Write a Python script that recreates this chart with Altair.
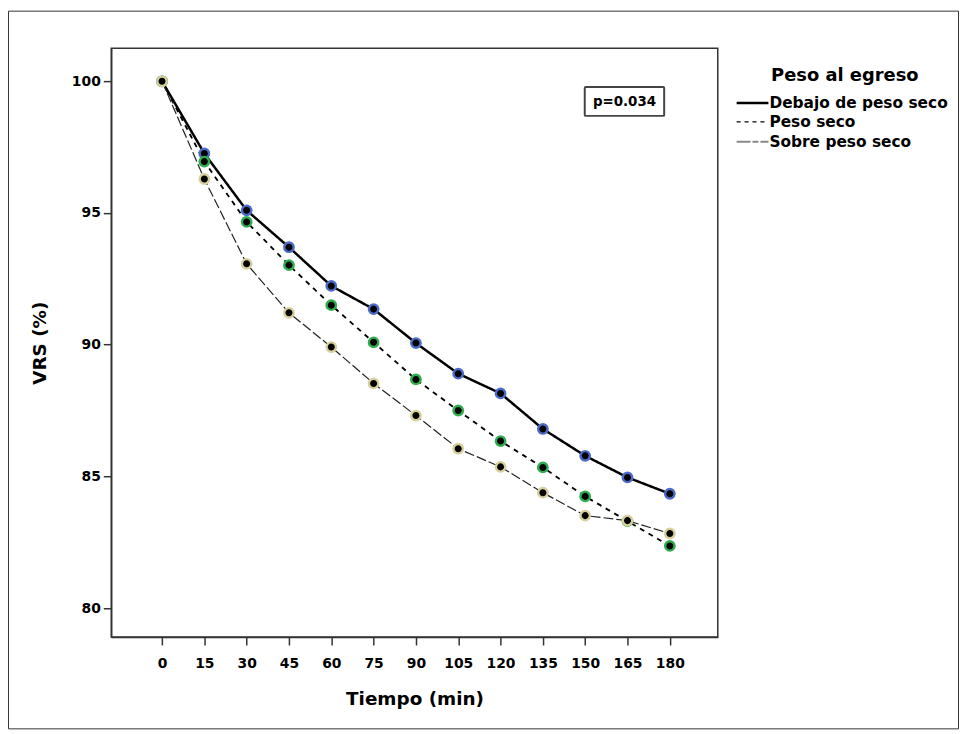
import altair as alt
import pandas as pd

# ---- data ----
tiempo = [0, 15, 30, 45, 60, 75, 90, 105, 120, 135, 150, 165, 180]
debajo = [100, 97.26, 95.10, 93.70, 92.23, 91.35, 90.06, 88.90, 88.15, 86.80, 85.78, 84.96, 84.34]
peso_seco = [100, 96.95, 94.66, 93.02, 91.50, 90.09, 88.68, 87.50, 86.34, 85.34, 84.24, 83.30, 82.36]
sobre = [100, 96.29, 93.07, 91.21, 89.91, 88.53, 87.31, 86.05, 85.36, 84.38, 83.51, 83.32, 82.83]
series = ["Debajo de peso seco", "Peso seco", "Sobre peso seco"]
y_ticks = [80, 85, 90, 95, 100]
p_text = "p=0.034"
legend_title = "Peso al egreso"

FONT = "DejaVu Sans"
W, H = 611, 593
PAD = {"left": 104, "top": 38, "right": 243, "bottom": 93}

rows = []
for name, vals in zip(series, [debajo, peso_seco, sobre]):
    for t, v in zip(tiempo, vals):
        rows.append({"t": t, "v": v, "serie": name})
df = pd.DataFrame(rows)

xs = alt.Scale(domain=[-18, 197], nice=False, zero=False)
ys = alt.Scale(domain=[78.9, 101.25], nice=False, zero=False)

dash_scale = alt.Scale(domain=series, range=[[1, 0], [5, 5], [10, 3]])
width_scale = alt.Scale(domain=series, range=[2.5, 1.2, 1.2])
line_color = alt.Scale(domain=series, range=["#000000", "#000000", "#222222"])
ring_color = alt.Scale(domain=series, range=["#4a6cc8", "#2fae4e", "#d8cf9c"])

x_enc = alt.X("t:Q", scale=xs, title="Tiempo (min)",
              axis=alt.Axis(values=tiempo, tickSize=8, labelPadding=12,
                            titleY=62, titleBaseline="middle", labelFlush=False))
y_enc = alt.Y("v:Q", scale=ys, title="VRS (%)",
              axis=alt.Axis(values=y_ticks, tickSize=8, labelPadding=3,
                            titleX=-72, titleY=H / 2, titleBaseline="middle",
                            titleAlign="center", labelFlush=False))

lines = alt.Chart(df).mark_line(clip=True).encode(
    x=x_enc,
    y=y_enc,
    color=alt.Color("serie:N", scale=line_color, legend=None),
    strokeDash=alt.StrokeDash("serie:N", scale=dash_scale, legend=None),
    strokeWidth=alt.StrokeWidth("serie:N", scale=width_scale, legend=None),
    detail="serie:N",
)

points = alt.Chart(df).mark_circle(size=90, opacity=1, fill="black", strokeWidth=2.4).encode(
    x="t:Q",
    y="v:Q",
    stroke=alt.Stroke("serie:N", scale=ring_color, legend=None),
)

# p-value annotation
pbox = alt.Chart(pd.DataFrame({"a": [0]})).mark_rect(
    fill="white", stroke="#444", strokeWidth=2, cornerRadius=1
).encode(x=alt.value(477), x2=alt.value(557), y=alt.value(39), y2=alt.value(68))
ptext = alt.Chart(pd.DataFrame({"a": [p_text]})).mark_text(
    font=FONT, fontWeight="bold", fontSize=13.5, align="center", baseline="middle", color="black"
).encode(text="a:N", x=alt.value(517), y=alt.value(54))

# manual legend
leg_layers = []
leg_layers.append(
    alt.Chart(pd.DataFrame({"a": [legend_title]})).mark_text(
        font=FONT, fontWeight="bold", fontSize=18, align="center", baseline="middle", color="black"
    ).encode(text="a:N", x=alt.value(739), y=alt.value(28))
)
row_y = [55, 74, 94]
sym_dash = [[1, 0], [4, 4], [14, 2, 6, 2]]
sym_width = [2.5, 1.2, 2]
sym_color = ["#000000", "#000000", "#888888"]
for i, name in enumerate(series):
    leg_layers.append(
        alt.Chart(pd.DataFrame({"a": [name]})).mark_rule(
            strokeDash=sym_dash[i], strokeWidth=sym_width[i], color=sym_color[i]
        ).encode(x=alt.value(630), x2=alt.value(662), y=alt.value(row_y[i]))
    )
    leg_layers.append(
        alt.Chart(pd.DataFrame({"a": [name]})).mark_text(
            font=FONT, fontWeight="bold", fontSize=15.5, align="left", baseline="middle", color="black"
        ).encode(text="a:N", x=alt.value(663), y=alt.value(row_y[i]))
    )

# outer frame around the whole figure
TW = PAD["left"] + W + PAD["right"]
TH = PAD["top"] + H + PAD["bottom"]
frame = alt.Chart(pd.DataFrame({"a": [0]})).mark_rect(
    fill=None, stroke="#333", strokeWidth=1
).encode(
    x=alt.value(-PAD["left"] + 0.5), x2=alt.value(TW - PAD["left"] - 0.5),
    y=alt.value(-PAD["top"] + 0.5), y2=alt.value(TH - PAD["top"] - 0.5),
)

chart = alt.layer(frame, lines, points, pbox, ptext, *leg_layers).properties(
    width=W, height=H, padding=PAD, autosize=alt.AutoSizeParams(type="none"),
    background="white",
).configure_view(
    stroke="#333", strokeWidth=1.5
).configure_axis(
    grid=False,
    domainColor="#333", domainWidth=1.5,
    tickColor="#333", tickWidth=1.5,
    labelFont=FONT, labelFontWeight="bold", labelFontSize=14, labelColor="black",
    titleFont=FONT, titleFontWeight="bold", titleFontSize=18.5, titleColor="black",
)

chart.save("out.html", embed_options={"renderer": "svg", "actions": False})
